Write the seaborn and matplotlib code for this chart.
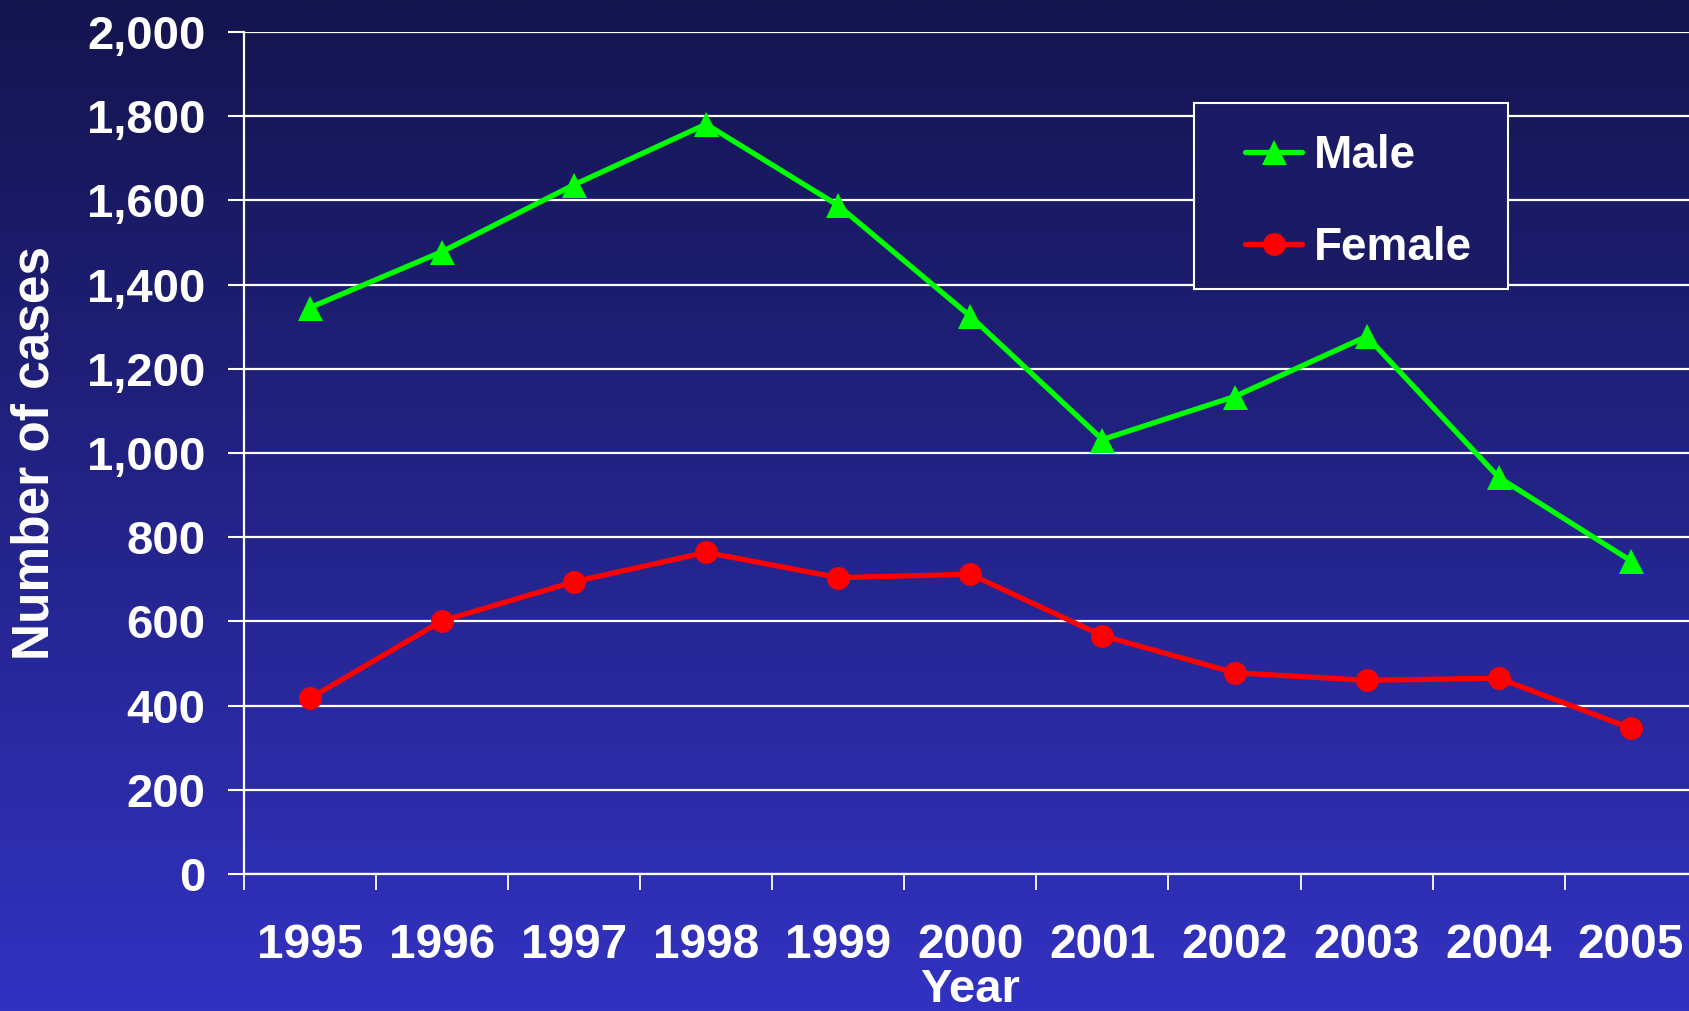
import numpy as np
import pandas as pd
import matplotlib
matplotlib.use("Agg")
import matplotlib.pyplot as plt
from matplotlib.patches import Rectangle
from matplotlib.ticker import FixedLocator, FuncFormatter
import seaborn as sns

# ---- data ----
years = ["1995", "1996", "1997", "1998", "1999", "2000",
         "2001", "2002", "2003", "2004", "2005"]
male = [1345, 1478, 1637, 1781, 1588, 1325, 1032, 1134, 1277, 942, 744]
female = [417, 601, 694, 764, 704, 712, 566, 478, 460, 465, 346]
y_ticks = [0, 200, 400, 600, 800, 1000, 1200, 1400, 1600, 1800, 2000]

sns.set_style("white")
plt.rcParams["font.family"] = ["Liberation Sans", "DejaVu Sans"]
plt.rcParams["font.weight"] = "bold"

W, H = 1690, 1011
fig = plt.figure(figsize=(W / 100, H / 100), dpi=100)

# gradient background
top_c = np.array([20, 20, 78]) / 255.0
bot_c = np.array([50, 50, 194]) / 255.0
t = np.linspace(0, 1, 512)[:, None]
grad = (top_c[None, :] * (1 - t) + bot_c[None, :] * t)[:, None, :]
bg = fig.add_axes([0, 0, 1, 1], zorder=0)
bg.imshow(grad, aspect="auto", extent=[0, 1, 0, 1], interpolation="bilinear")
bg.axis("off")

left_px, right_px, top_px, bot_px = 243.6, 1697, 32, 874
ax = fig.add_axes([left_px / W, 1 - bot_px / H, (right_px - left_px) / W,
                   (bot_px - top_px) / H], zorder=1)
ax.patch.set_alpha(0)

df = pd.DataFrame({"pos": np.arange(len(years)), "Male": male, "Female": female})

sns.lineplot(data=df, x="pos", y="Male", ax=ax, color="#00ff00", linewidth=3.8,
             marker="^", markersize=18, markeredgewidth=0, label="Male", zorder=3)
sns.lineplot(data=df, x="pos", y="Female", ax=ax, color="#ff0000", linewidth=3.8,
             marker="o", markersize=16.5, markeredgewidth=0, label="Female", zorder=3)

ax.set_xlim(-0.5, len(years) - 0.5)
ax.set_ylim(0, 2000)

# y axis
ax.yaxis.set_major_locator(FixedLocator(y_ticks))
ax.yaxis.set_major_formatter(FuncFormatter(lambda v, p: f"{int(v):,}"))
ax.grid(axis="y", color="white", linewidth=1.6, zorder=1)
ax.grid(axis="x", visible=False)
ax.set_axisbelow(True)
ax.tick_params(axis="y", which="major", length=11.5, width=1.5, color="white",
               direction="out", pad=16, labelsize=34, labelcolor="white", left=True)

# x axis: labels at centers, ticks at boundaries
ax.set_xticks(np.arange(len(years)))
ax.set_xticklabels(years)
ax.set_xticks(np.arange(len(years) + 1) - 0.5, minor=True)
ax.tick_params(axis="x", which="major", length=0, pad=35, labelsize=34.5,
               labelcolor="white")
ax.tick_params(axis="x", which="minor", length=11.5, width=1.3, color="white",
               direction="out", bottom=True)

for s in ["top", "right"]:
    ax.spines[s].set_visible(False)
for s in ["left", "bottom"]:
    ax.spines[s].set_color("white")
    ax.spines[s].set_linewidth(1.6)

ax.set_xlabel("Year", fontsize=34, color="white", fontweight="bold", labelpad=0)
ax.set_ylabel("Number of cases", fontsize=37, color="white", fontweight="bold",
              labelpad=20)

# legend frame drawn as a box, legend entries without frame
box = Rectangle((1194 / W, 1 - 289 / H), (1508 - 1194) / W, (289 - 103) / H,
                transform=fig.transFigure, facecolor=(26 / 255, 26 / 255, 101 / 255),
                edgecolor="white", linewidth=1.5, zorder=4)
ax.add_patch(box)

leg = ax.legend(loc="upper left",
                bbox_to_anchor=(1245 / W, 1 - 134 / H),
                bbox_transform=fig.transFigure,
                fontsize=33, frameon=False,
                borderpad=0, labelspacing=1.05, handlelength=1.25,
                handletextpad=0.25, borderaxespad=0)
leg.set_zorder(5)
for txt in leg.get_texts():
    txt.set_color("white")
    txt.set_fontweight("bold")

fig.savefig("out.png", dpi=100)
